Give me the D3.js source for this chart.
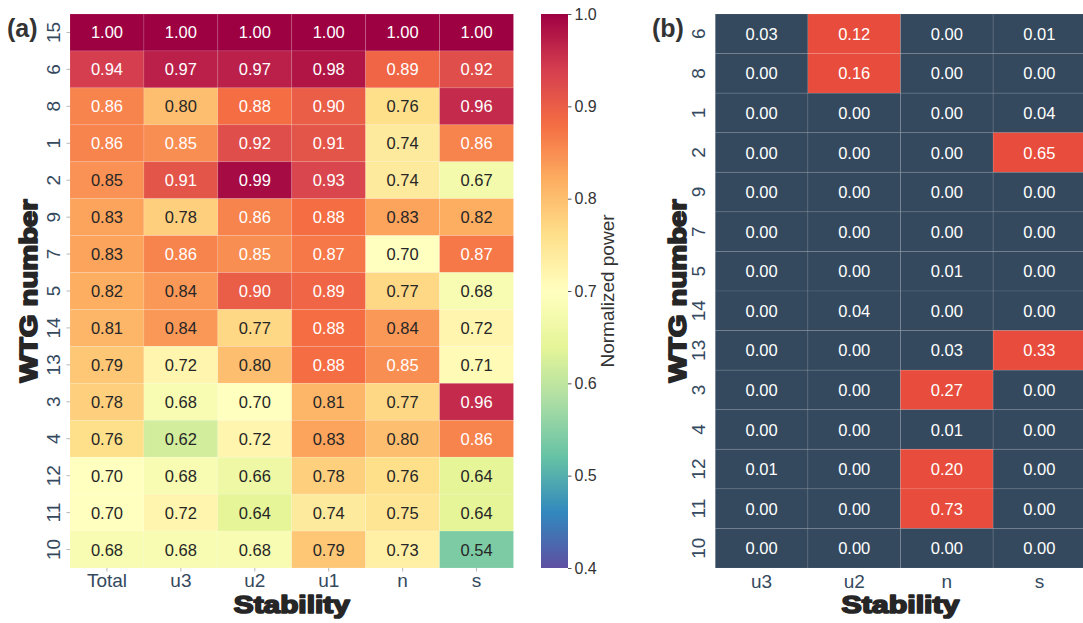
<!DOCTYPE html>
<html>
<head>
<meta charset="utf-8">
<script src="https://cdn.jsdelivr.net/npm/d3@7"></script>
<style>
  html, body { margin: 0; padding: 0; background: #fff; }
  svg { display: block; font-family: "Liberation Sans", Arial, sans-serif; }
</style>
</head>
<body>
<svg id="fig" width="1083" height="623"></svg>
<script>
// ---- Panel (a): normalized power per turbine and stability class ----
const rowsA = ["15", "6", "8", "1", "2", "9", "7", "5", "14", "13", "3", "4", "12", "11", "10"];
const colsA = ["Total", "u3", "u2", "u1", "n", "s"];
const totalVals = [1.00, 0.94, 0.86, 0.86, 0.846, 0.83, 0.83, 0.82, 0.81, 0.79, 0.78, 0.76, 0.70, 0.70, 0.68];
const u3Vals    = [1.00, 0.97, 0.80, 0.85, 0.91, 0.78, 0.86, 0.84, 0.84, 0.72, 0.68, 0.62, 0.68, 0.72, 0.68];
const u2Vals    = [1.00, 0.97, 0.88, 0.92, 0.99, 0.86, 0.85, 0.90, 0.77, 0.80, 0.70, 0.72, 0.66, 0.64, 0.68];
const u1Vals    = [1.00, 0.98, 0.90, 0.91, 0.93, 0.88, 0.87, 0.89, 0.88, 0.88, 0.81, 0.83, 0.78, 0.74, 0.79];
const nVals     = [1.00, 0.89, 0.76, 0.74, 0.74, 0.83, 0.70, 0.77, 0.84, 0.85, 0.77, 0.80, 0.76, 0.75, 0.73];
const sVals     = [1.00, 0.92, 0.96, 0.86, 0.67, 0.82, 0.87, 0.68, 0.72, 0.71, 0.96, 0.86, 0.64, 0.64, 0.54];
const seriesA = [totalVals, u3Vals, u2Vals, u1Vals, nVals, sVals];
const colorbarTicks = [0.4, 0.5, 0.6, 0.7, 0.8, 0.9, 1.0];

// ---- Panel (b): share per turbine and stability class ----
const rowsB = ["6", "8", "1", "2", "9", "7", "5", "14", "13", "3", "4", "12", "11", "10"];
const colsB = ["u3", "u2", "n", "s"];
const u3B = [0.03, 0.00, 0.00, 0.00, 0.00, 0.00, 0.00, 0.00, 0.00, 0.00, 0.00, 0.01, 0.00, 0.00];
const u2B = [0.12, 0.16, 0.00, 0.00, 0.00, 0.00, 0.00, 0.04, 0.00, 0.00, 0.00, 0.00, 0.00, 0.00];
const nB  = [0.00, 0.00, 0.00, 0.00, 0.00, 0.00, 0.01, 0.00, 0.03, 0.27, 0.01, 0.20, 0.73, 0.00];
const sB  = [0.01, 0.00, 0.04, 0.65, 0.00, 0.00, 0.00, 0.00, 0.33, 0.00, 0.00, 0.00, 0.00, 0.00];
const seriesB = [u3B, u2B, nB, sB];

const svg = d3.select("#fig");
const fmt = d3.format(".2f");
const tickColor = "#34495e";
const titleColor = "#262626";
const tickFont = 19;

// Spectral (reversed) colour map, linear between the 11 ColorBrewer anchors
const spectral = ["#9e0142", "#d53e4f", "#f46d43", "#fdae61", "#fee08b", "#ffffbf",
                  "#e6f598", "#abdda4", "#66c2a5", "#3288bd", "#5e4fa2"].reverse();
const vmin = 0.4, vmax = 1.0;
const color = d3.scaleLinear()
  .domain(d3.range(spectral.length).map(i => vmin + (vmax - vmin) * i / (spectral.length - 1)))
  .range(spectral)
  .interpolate(d3.interpolateRgb)
  .clamp(true);

// text colour picked from the cell's relative luminance
function lum(c) {
  const rgb = d3.rgb(c);
  const f = v => { v /= 255; return v <= 0.03928 ? v / 12.92 : Math.pow((v + 0.055) / 1.055, 2.4); };
  return 0.2126 * f(rgb.r) + 0.7152 * f(rgb.g) + 0.0722 * f(rgb.b);
}
const annotColor = c => lum(c) > 0.408 ? "#262626" : "#ffffff";

// ================= Panel (a) =================
const A = { x0: 70, x1: 513.5, y0: 14, y1: 568 };
const xA = d3.scaleBand().domain(colsA).range([A.x0, A.x1]);
const yA = d3.scaleBand().domain(rowsA).range([A.y0, A.y1]);

const cellsA = [];
colsA.forEach((c, j) => rowsA.forEach((r, i) => cellsA.push({ col: c, row: r, v: seriesA[j][i] })));

const gA = svg.append("g");
gA.selectAll("rect").data(cellsA).join("rect")
  .attr("x", d => xA(d.col)).attr("y", d => yA(d.row))
  .attr("width", xA.bandwidth()).attr("height", yA.bandwidth())
  .attr("fill", d => color(d.v))
  .attr("stroke", "rgba(255,255,255,0.15)").attr("stroke-width", 0.8);
gA.selectAll("text").data(cellsA).join("text")
  .attr("x", d => xA(d.col) + xA.bandwidth() / 2)
  .attr("y", d => yA(d.row) + yA.bandwidth() / 2)
  .attr("text-anchor", "middle").attr("dominant-baseline", "central")
  .attr("font-size", 16.5)
  .attr("fill", d => annotColor(color(d.v)))
  .text(d => fmt(d.v));

// x axis (a)
const axXA = svg.append("g").attr("transform", `translate(0,${A.y1})`)
  .call(d3.axisBottom(xA).tickSize(3.5).tickSizeOuter(0));
axXA.select(".domain").remove();
axXA.selectAll(".tick line").attr("stroke", "#b8b8b8");
axXA.selectAll(".tick text").attr("y", 19).attr("dy", 0)
  .attr("font-size", tickFont).attr("fill", tickColor).attr("font-family", "Liberation Sans, Arial, sans-serif");

// y axis (a)
const axYA = svg.append("g").attr("transform", `translate(${A.x0},0)`)
  .call(d3.axisLeft(yA).tickSize(3.5).tickSizeOuter(0));
axYA.select(".domain").remove();
axYA.selectAll(".tick line").attr("stroke", "#b8b8b8");
axYA.selectAll(".tick text")
  .attr("x", 0).attr("y", 0).attr("dy", 0)
  .attr("transform", "translate(-10,0) rotate(-90)")
  .attr("text-anchor", "middle")
  .attr("font-size", tickFont).attr("fill", tickColor).attr("font-family", "Liberation Sans, Arial, sans-serif");

// heavy axis titles
function heavyTitle(sel, txt, len) {
  sel.append("text")
    .attr("text-anchor", "middle")
    .attr("font-size", 24).attr("font-weight", "bold")
    .attr("fill", titleColor).attr("stroke", titleColor).attr("stroke-width", 1.7)
    .attr("stroke-linejoin", "round")
    .attr("textLength", len).attr("lengthAdjust", "spacingAndGlyphs")
    .text(txt);
}
heavyTitle(svg.append("g").attr("transform", `translate(${(A.x0 + A.x1) / 2},613)`), "Stability", 116);
heavyTitle(svg.append("g").attr("transform", `translate(37,${(A.y0 + A.y1) / 2}) rotate(-90)`), "WTG number", 183);

// panel letter (a)
svg.append("text").attr("x", 7).attr("y", 37)
  .attr("font-size", 25).attr("font-weight", "bold").attr("fill", "#333")
  .text("(a)");

// colour bar
const CB = { x0: 541, x1: 568, y0: 14, y1: 568 };
const cbScale = d3.scaleLinear().domain([vmin, vmax]).range([CB.y1, CB.y0]);
const grad = svg.append("defs").append("linearGradient")
  .attr("id", "cbGrad").attr("x1", 0).attr("y1", 1).attr("x2", 0).attr("y2", 0);
d3.range(0, 1.0001, 0.01).forEach(t => {
  grad.append("stop").attr("offset", t).attr("stop-color", color(vmin + (vmax - vmin) * t));
});
svg.append("rect")
  .attr("x", CB.x0).attr("y", CB.y0)
  .attr("width", CB.x1 - CB.x0).attr("height", CB.y1 - CB.y0)
  .attr("fill", "url(#cbGrad)");
const axCB = svg.append("g").attr("transform", `translate(${CB.x1},0)`)
  .call(d3.axisRight(cbScale).tickValues(colorbarTicks).tickFormat(d3.format(".1f")).tickSize(3.5).tickPadding(3));
axCB.select(".domain").remove();
axCB.selectAll(".tick line").attr("stroke", "#555");
axCB.selectAll(".tick text").attr("font-size", 16).attr("fill", "#333")
  .attr("font-family", "Liberation Sans, Arial, sans-serif");
svg.append("text")
  .attr("transform", `translate(614,${(CB.y0 + CB.y1) / 2}) rotate(-90)`)
  .attr("text-anchor", "middle").attr("font-size", 19).attr("fill", "#333")
  .text("Normalized power");

// ================= Panel (b) =================
const B = { x0: 715.3, y0: 14, y1: 568 };
const xB = d3.scaleBand().domain(colsB).range([B.x0, B.x0 + 92.6 * colsB.length]);
const yB = d3.scaleBand().domain(rowsB).range([B.y0, B.y1]);
const colorB = d3.scaleThreshold().domain([0.1]).range(["#34495e", "#e74c3c"]);

const cellsB = [];
colsB.forEach((c, j) => rowsB.forEach((r, i) => cellsB.push({ col: c, row: r, v: seriesB[j][i] })));

const gB = svg.append("g");
gB.selectAll("rect").data(cellsB).join("rect")
  .attr("x", d => xB(d.col)).attr("y", d => yB(d.row))
  .attr("width", xB.bandwidth()).attr("height", yB.bandwidth())
  .attr("fill", d => colorB(d.v))
  .attr("stroke", "rgba(255,255,255,0.08)").attr("stroke-width", 1);
gB.selectAll("text").data(cellsB).join("text")
  .attr("x", d => xB(d.col) + xB.bandwidth() / 2)
  .attr("y", d => yB(d.row) + yB.bandwidth() / 2)
  .attr("text-anchor", "middle").attr("dominant-baseline", "central")
  .attr("font-size", 16.5).attr("fill", "#ffffff")
  .text(d => fmt(d.v));

const axXB = svg.append("g").attr("transform", `translate(0,${B.y1})`)
  .call(d3.axisBottom(xB).tickSize(0).tickSizeOuter(0));
axXB.select(".domain").remove();
axXB.selectAll(".tick text").attr("y", 20).attr("dy", 0)
  .attr("font-size", tickFont).attr("fill", tickColor).attr("font-family", "Liberation Sans, Arial, sans-serif");

const axYB = svg.append("g").attr("transform", `translate(${B.x0},0)`)
  .call(d3.axisLeft(yB).tickSize(0).tickSizeOuter(0));
axYB.select(".domain").remove();
axYB.selectAll(".tick text")
  .attr("x", 0).attr("y", 0).attr("dy", 0)
  .attr("transform", "translate(-10,0) rotate(-90)")
  .attr("text-anchor", "middle")
  .attr("font-size", tickFont).attr("fill", tickColor).attr("font-family", "Liberation Sans, Arial, sans-serif");

heavyTitle(svg.append("g").attr("transform", `translate(${B.x0 + 92.6 * 2},613)`), "Stability", 118);
heavyTitle(svg.append("g").attr("transform", `translate(686,${(B.y0 + B.y1) / 2}) rotate(-90)`), "WTG number", 183);

svg.append("text").attr("x", 652).attr("y", 37)
  .attr("font-size", 25).attr("font-weight", "bold").attr("fill", "#333")
  .text("(b)");
</script>
</body>
</html>
